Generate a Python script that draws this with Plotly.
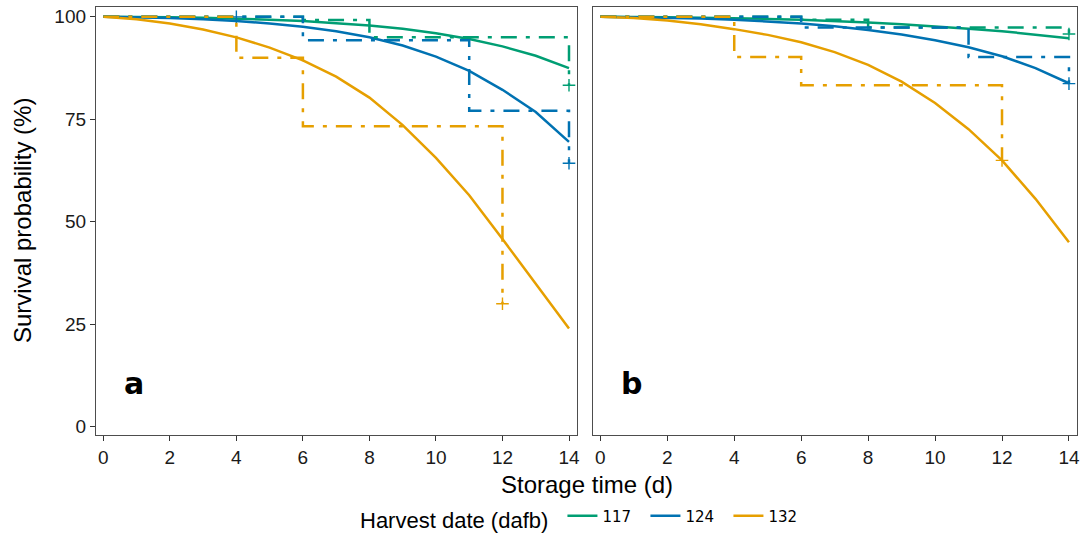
import plotly.graph_objects as go
from plotly.subplots import make_subplots

days = list(range(15))
groups = ["117", "124", "132"]
colors = {"117": "#009E73", "124": "#0072B2", "132": "#E69F00"}

# Model fits (solid curves)
fit_a = {
    "117": [100, 100, 99.9, 99.8, 99.6, 99.3, 99.0, 98.5, 97.9, 97.1, 96.0, 94.6, 92.8, 90.5, 87.5],
    "124": [100, 99.9, 99.7, 99.4, 99.0, 98.4, 97.6, 96.5, 95.0, 93.0, 90.3, 86.8, 82.2, 76.8, 69.5],
    "132": [100, 99.4, 98.4, 96.9, 95.0, 92.5, 89.4, 85.4, 80.3, 73.6, 65.6, 56.5, 45.8, 35.0, 24.0],
}
fit_b = {
    "117": [100, 100, 99.9, 99.8, 99.7, 99.5, 99.3, 99.0, 98.6, 98.2, 97.7, 97.1, 96.5, 95.7, 94.8],
    "124": [100, 99.9, 99.8, 99.6, 99.3, 98.9, 98.4, 97.7, 96.8, 95.7, 94.3, 92.6, 90.4, 87.5, 83.8],
    "132": [100, 99.7, 99.1, 98.2, 97.0, 95.6, 93.8, 91.4, 88.3, 84.2, 79.0, 72.6, 65.0, 55.6, 45.0],
}
# Kaplan-Meier steps (dash-dot)
km_a_x = {"117": [0, 6, 8, 14], "124": [0, 6, 11, 14], "132": [0, 4, 6, 12]}
km_a_y = {"117": [100, 99.2, 95.0, 83.3], "124": [100, 94.3, 77.1, 64.3], "132": [100, 90.0, 73.3, 30.0]}
km_b_x = {"117": [0, 6, 8, 14], "124": [0, 6, 11, 14], "132": [0, 4, 6, 12]}
km_b_y = {"117": [100, 99.3, 97.4, 95.8], "124": [100, 97.4, 90.2, 83.7], "132": [100, 90.2, 83.3, 65.0]}
# censored points
cens_a_x = {"117": [14], "124": [4, 14], "132": [12]}
cens_a_y = {"117": [83.3], "124": [100, 64.3], "132": [30.0]}
cens_b_x = {"117": [14], "124": [14], "132": [12]}
cens_b_y = {"117": [95.8], "124": [83.7], "132": [65.0]}

panel_labels = ["a", "b"]
x_ticks = list(range(0, 15, 2))
y_ticks = [0, 25, 50, 75, 100]

fig = make_subplots(rows=1, cols=2, horizontal_spacing=0.0166)
DASH = "16px,9px,4px,9px"
LW = 2.5

panels = [(fit_a, km_a_x, km_a_y, cens_a_x, cens_a_y), (fit_b, km_b_x, km_b_y, cens_b_x, cens_b_y)]
for ci, (fit, kx, ky, cx, cy) in enumerate(panels, start=1):
    for g in groups:
        fig.add_trace(go.Scatter(x=days, y=fit[g], mode="lines",
                                 line=dict(color=colors[g], width=LW),
                                 name=g, legendgroup=g, showlegend=(ci == 1)), row=1, col=ci)
    for g in groups:
        fig.add_trace(go.Scatter(x=kx[g], y=ky[g], mode="lines", line_shape="hv",
                                 line=dict(color=colors[g], width=LW, dash=DASH),
                                 showlegend=False, legendgroup=g), row=1, col=ci)
        fig.add_trace(go.Scatter(x=cx[g], y=cy[g], mode="markers",
                                 marker=dict(symbol="cross-thin", size=9,
                                             line=dict(color=colors[g], width=1.4)),
                                 showlegend=False, legendgroup=g), row=1, col=ci)

FONT = "Liberation Sans, Arial, sans-serif"
axis_common = dict(showgrid=False, zeroline=False, showline=True, mirror=True,
                   linecolor="#4d4d4d", linewidth=1.3, ticks="outside", ticklen=5,
                   tickwidth=1.3, tickcolor="#333333",
                   tickfont=dict(family=FONT, size=19, color="#1a1a1a"))
for ci in (1, 2):
    fig.update_xaxes(range=[-0.22, 14.24], tickvals=x_ticks, **axis_common, row=1, col=ci)
    fig.update_yaxes(range=[-2.0, 102.4], tickvals=y_ticks, **axis_common, row=1, col=ci)
fig.update_yaxes(showticklabels=False, ticks="", row=1, col=2)

fig.update_layout(xaxis=dict(domain=[0, 0.4903]), xaxis2=dict(domain=[0.5066, 1]))

for i, lab in enumerate(panel_labels):
    fig.add_annotation(x=0.93, y=10.5, xref=f"x{'' if i == 0 else 2}", yref=f"y{'' if i == 0 else 2}",
                       text=f"<b>{lab}</b>", showarrow=False,
                       font=dict(family="DejaVu Sans, sans-serif", size=30, color="black"))

fig.add_annotation(x=0.5, y=-0.079, xref="paper", yref="paper", text="Storage time (d)",
                   showarrow=False, yanchor="top",
                   font=dict(family=FONT, size=24, color="black"))
fig.add_annotation(x=(22 - 96) / 981, y=0.5, xref="paper", yref="paper", text="Survival probability (%)",
                   showarrow=False, textangle=-90, xanchor="center",
                   font=dict(family=FONT, size=24, color="black"))

fig.update_layout(
    width=1086, height=533,
    margin=dict(l=96, r=9, t=7, b=98),
    paper_bgcolor="white", plot_bgcolor="white",
    legend=dict(orientation="h", x=585 / 1086, xanchor="center", xref="container",
                y=(533 - 519) / 533, yanchor="middle", yref="container",
                title=dict(text="Harvest date (dafb) ", font=dict(family=FONT, size=22, color="black")),
                font=dict(family="DejaVu Sans, sans-serif", size=15, color="black"),
                itemwidth=30, entrywidth=38, entrywidthmode="pixels"),
)

fig.write_html("out.html", config={"displayModeBar": False},
               post_script="document.body.style.margin='0';document.body.style.overflow='hidden';")
